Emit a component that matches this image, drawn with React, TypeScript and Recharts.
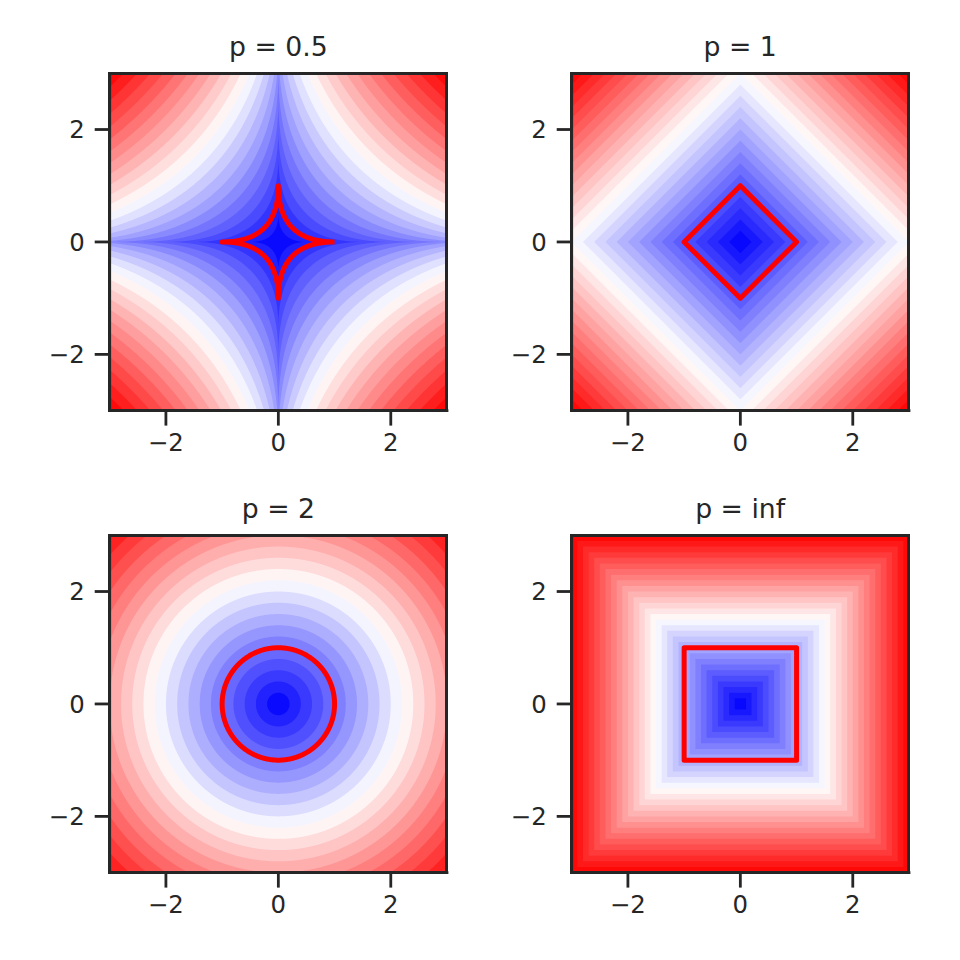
import React from 'react';
import { ComposedChart, Area, Scatter, XAxis, YAxis } from 'recharts';

// ---- chart values ----
const PLOT_TITLES = ['p = 0.5', 'p = 1', 'p = 2', 'p = inf'];
const P_VALUES = [0.5, 1, 2, Infinity];
// filled-contour level spacing and number of bands per panel
const LEVEL_STEPS = [0.5, 0.2, 0.2, 0.1];
const LEVEL_COUNTS = [24, 30, 22, 30];
const AXIS_TICKS = [-2, 0, 2];
const AXIS_DOMAIN: [number, number] = [-3, 3];
const UNIT_LEVEL = 1;
const GRID_STEP = 0.005;
const NEAR_ZERO = [0.00002, 0.0001, 0.0004, 0.001, 0.002, 0.0035];

// ---- layout / style ----
const CHART_SIZE = 480;
const PLOT_LEFT = 109.7;
const PLOT_TOP = 73.3;
const PLOT_SIZE = 337.3;
const COL_OFFSETS = [0, 461.8];
const ROW_OFFSETS = [0, 462];
const Y_AXIS_W = 70;
const X_AXIS_H = 50;
const INK = '#262626';
const FONT = '"DejaVu Sans", Verdana, sans-serif';
const FRAME_W = 3;

function bwr(v: number): string {
  let idx = Math.floor(v * 256);
  if (idx > 255) idx = 255;
  if (idx < 0) idx = 0;
  const t = idx / 255;
  let r: number, g: number, b: number;
  if (t < 0.5) {
    r = 2 * t; g = 2 * t; b = 1;
  } else {
    r = 1; g = 2 * (1 - t); b = 2 * (1 - t);
  }
  const h = (c: number) => Math.round(c * 255).toString(16).padStart(2, '0');
  return '#' + h(r) + h(g) + h(b);
}

function halfHeight(x: number, L: number, p: number): number | null {
  const ax = Math.abs(x);
  if (ax > L + 1e-9) return null;
  if (!isFinite(p)) return L;
  const v = Math.pow(L, p) - Math.pow(ax, p);
  return v <= 0 ? 0 : Math.pow(v, 1 / p);
}

function buildLevels(i: number): number[] {
  const out: number[] = [];
  for (let k = 1; k <= LEVEL_COUNTS[i]; k++) out.push(+(k * LEVEL_STEPS[i]).toFixed(6));
  return out;
}

function buildGrid(levels: number[]): number[] {
  const xs: number[] = [];
  const n = Math.round((AXIS_DOMAIN[1] - AXIS_DOMAIN[0]) / GRID_STEP);
  for (let i = 0; i <= n; i++) xs.push(+(AXIS_DOMAIN[0] + i * GRID_STEP).toFixed(6));
  for (const L of levels) if (L < AXIS_DOMAIN[1]) xs.push(L, -L);
  for (const e of NEAR_ZERO) xs.push(e, -e);
  xs.sort((a, b) => a - b);
  const res: number[] = [];
  for (const x of xs) if (!res.length || x - res[res.length - 1] > 1e-7) res.push(x);
  return res;
}

function buildRows(i: number, levels: number[]) {
  const p = P_VALUES[i];
  const xs = buildGrid(levels);
  const top = AXIS_DOMAIN[1];
  return xs.map((x) => {
    const row: Record<string, any> = { x };
    levels.forEach((L, k) => {
      const h = halfHeight(x, L, p);
      row['l' + k] = h === null ? null : [-Math.min(h, top), Math.min(h, top)];
    });
    return row;
  });
}

function buildOutline(p: number) {
  const pts: { x: number; y: number }[] = [];
  const r = UNIT_LEVEL;
  if (!isFinite(p)) {
    return [
      { x: -r, y: -r }, { x: r, y: -r }, { x: r, y: r }, { x: -r, y: r }, { x: -r, y: -r }, { x: r, y: -r },
    ];
  }
  if (p === 1) {
    return [{ x: r, y: 0 }, { x: 0, y: r }, { x: -r, y: 0 }, { x: 0, y: -r }, { x: r, y: 0 }, { x: 0, y: r }];
  }
  const N = 720;
  for (let j = 0; j <= N; j++) {
    const t = (j / N) * 2 * Math.PI;
    const c = Math.cos(t), s = Math.sin(t);
    pts.push({
      x: r * Math.sign(c) * Math.pow(Math.abs(c), 2 / p),
      y: r * Math.sign(s) * Math.pow(Math.abs(s), 2 / p),
    });
  }
  return pts;
}

const PANELS = P_VALUES.map((p, i) => {
  const levels = buildLevels(i);
  const n = levels.length;
  return {
    title: PLOT_TITLES[i],
    levels,
    rows: buildRows(i, levels),
    colors: levels.map((_, k) => bwr((k + 0.5) / n)),
    outline: buildOutline(p),
  };
});

const fmt = (v: number) => (v < 0 ? '\u2212' + Math.abs(v) : String(v));
const NoPoint = () => <g />;

function Panel({ idx, left, top }: { idx: number; left: number; top: number }) {
  const panel = PANELS[idx];
  const tickStyle = { fill: INK, fontSize: 24.4, fontFamily: FONT };
  const frameLine = { stroke: INK, strokeWidth: 2.8, strokeLinecap: 'square' as const };
  const order = panel.levels.map((_, k) => k).reverse();
  return (
    <div style={{ position: 'absolute', left, top, width: CHART_SIZE, height: CHART_SIZE }}>
      <div
        style={{
          position: 'absolute',
          left: PLOT_LEFT,
          width: PLOT_SIZE,
          top: 34.1,
          textAlign: 'center',
          fontFamily: FONT,
          fontSize: 26.7,
          lineHeight: '26.7px',
          color: INK,
          whiteSpace: 'nowrap',
        }}
      >
        {panel.title}
      </div>
      <ComposedChart
        width={CHART_SIZE}
        height={CHART_SIZE}
        data={panel.rows}
        margin={{
          top: PLOT_TOP,
          left: PLOT_LEFT - Y_AXIS_W,
          right: CHART_SIZE - PLOT_LEFT - PLOT_SIZE,
          bottom: CHART_SIZE - PLOT_TOP - PLOT_SIZE - X_AXIS_H,
        }}
      >
        <XAxis
          dataKey="x"
          type="number"
          domain={AXIS_DOMAIN}
          allowDataOverflow
          ticks={AXIS_TICKS}
          interval={0}
          height={X_AXIS_H}
          tickSize={15}
          tickMargin={8}
          tick={tickStyle}
          tickFormatter={fmt}
          tickLine={{ stroke: INK, strokeWidth: 2.8 }}
          axisLine={frameLine}
        />
        <YAxis
          type="number"
          domain={AXIS_DOMAIN}
          allowDataOverflow
          ticks={AXIS_TICKS}
          interval={0}
          width={Y_AXIS_W}
          tickSize={15}
          tickMargin={10}
          tick={tickStyle}
          tickFormatter={fmt}
          tickLine={{ stroke: INK, strokeWidth: 2.8 }}
          axisLine={frameLine}
        />
        {order.map((k) => (
          <Area
            key={'l' + k}
            dataKey={'l' + k}
            type="linear"
            stroke="none"
            fill={panel.colors[k]}
            fillOpacity={1}
            dot={false}
            activeDot={false}
            connectNulls={false}
            legendType="none"
            isAnimationActive={false}
          />
        ))}
        <Scatter
          data={panel.outline}
          dataKey="y"
          line={{ stroke: '#ff0000', strokeWidth: 5, strokeLinejoin: 'round' }}
          lineType="joint"
          shape={NoPoint}
          legendType="none"
          isAnimationActive={false}
        />
      </ComposedChart>
      <div
        style={{
          position: 'absolute',
          left: PLOT_LEFT - FRAME_W / 2,
          top: PLOT_TOP - FRAME_W / 2,
          width: PLOT_SIZE + FRAME_W,
          height: PLOT_SIZE + FRAME_W,
          boxSizing: 'border-box',
          border: `${FRAME_W}px solid ${INK}`,
          pointerEvents: 'none',
        }}
      />
    </div>
  );
}

export default function App() {
  return (
    <div style={{ position: 'absolute', left: 0, top: 0, width: 960, height: 960, background: '#fff' }}>
      {[0, 1, 2, 3].map((i) => (
        <Panel key={i} idx={i} left={COL_OFFSETS[i % 2]} top={ROW_OFFSETS[Math.floor(i / 2)]} />
      ))}
    </div>
  );
}
